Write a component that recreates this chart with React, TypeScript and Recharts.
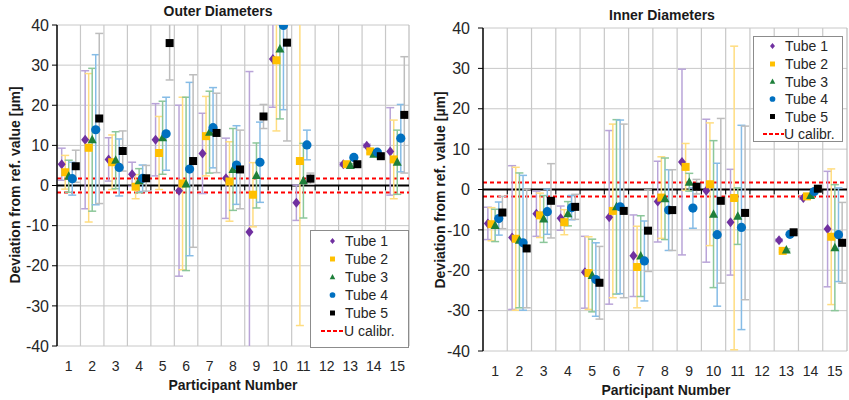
import React from 'react';
import { ScatterChart, Scatter, XAxis, YAxis, CartesianGrid, ReferenceLine, ErrorBar } from 'recharts';

const FONT = '"Liberation Sans", Arial, sans-serif';

const PARTICIPANTS = [1, 2, 3, 4, 5, 6, 7, 8, 9, 10, 11, 12, 13, 14, 15];
const Y_TICKS = [-40, -30, -20, -10, 0, 10, 20, 30, 40];
const U_CALIBR = 1.75;

// Outer diameters: deviation per participant (null = no result) and uncertainty
const OUTER_T1 = [5.3, 11.4, 6.5, 2.8, 11.4, -1.3, 8.0, 1.8, -11.6, 31.5, -4.3, null, 5.3, 9.9, 8.5];
const OUTER_T1_ERR = [4, 17.2, 5.4, 3, 9, 21.3, 10, 10, 40, 12, 4.4, null, 0.4, 0.4, 10.9];
const OUTER_T2 = [3.3, 9.4, 5.8, -0.3, 8.1, 0.5, 12.3, 1.0, -2.3, 31.2, 6.1, null, 5.3, 8.5, 6.5];
const OUTER_T2_ERR = [4.2, 18.5, 6.8, 3, 9.1, 21.5, 9.9, 9.9, 8, 17.6, 41, null, 0.4, 0.4, 9.8];
const OUTER_T3 = [2.3, 11.4, 6.3, 1.2, 11.9, 0.4, 13.3, 4.0, 2.5, 34.0, 1.2, null, 5.0, 7.8, 5.8];
const OUTER_T3_ERR = [4, 17.8, 7.1, 3, 9.1, 21.6, 10.2, 10.2, 8.1, 17.4, 9.3, null, 0.4, 0.4, 8];
const OUTER_T4 = [1.7, 13.9, 4.5, 1.8, 12.9, 4.1, 14.4, 5.1, 5.8, 39.9, 10.1, null, 7.0, 8.3, 11.8];
const OUTER_T4_ERR = [4.1, 18.7, 7.1, 3.3, 9.1, 21.6, 10, 9.8, 10, 21, 3.7, null, 0.4, 0.4, 8.4];
const OUTER_T5 = [4.8, 16.7, 8.6, 1.8, 35.5, 6.1, 13.1, 4.0, 17.2, 35.6, 1.7, null, 5.3, 7.3, 17.6];
const OUTER_T5_ERR = [4, 21.2, 5, 3.2, 9.2, 21.5, 9.9, 9.8, 3, 24.5, 1.4, null, 0.4, 0.4, 14.5];

// Inner diameters
const INNER_T1 = [-8.4, -11.9, -6.0, -7.1, -20.5, -6.9, -16.4, -3.0, 6.8, -0.3, -8.1, null, -12.6, -2.1, -9.8];
const INNER_T1_ERR = [4, 17.8, 5.6, 3, 8.9, 21.5, 10.1, 10, 23, 17.7, 13.1, null, 0.3, 0.3, 14.3];
const INNER_T2 = [-8.6, -12.2, -6.4, -8.1, -20.7, -5.3, -19.2, -2.0, 5.6, 1.3, -2.1, null, -15.2, -1.7, -11.7];
const INNER_T2_ERR = [4.1, 17.7, 5.5, 3.1, 9, 21.5, 10.1, 10.1, 5.8, 15.2, 37.6, null, 0.3, 0.3, 16.8];
const INNER_T3 = [-8.9, -12.6, -7.3, -6.0, -21.3, -4.3, -16.5, -2.3, 1.8, -6.1, -6.6, null, -15.0, -1.5, -14.4];
const INNER_T3_ERR = [4, 16.7, 5.8, 3, 9, 21.6, 10, 10.1, 2.2, 18.2, 7, null, 0.3, 0.3, 15.6];
const INNER_T4 = [-7.2, -13.2, -5.5, -4.5, -22.3, -4.3, -17.7, -5.1, -4.6, -11.2, -9.4, null, -11.1, -0.5, -11.2];
const INNER_T4_ERR = [4.1, 16.7, 5.6, 3, 9.1, 21.5, 9.9, 10, 5, 17.7, 25.3, null, 0.3, 0.3, 11.6];
const INNER_T5 = [-5.7, -14.6, -2.8, -4.3, -23.1, -5.3, -10.2, -5.1, 0.7, -2.8, -5.8, null, -10.6, 0.2, -13.2];
const INNER_T5_ERR = [4, 14.7, 9.2, 3.1, 9, 21.5, 10.1, 10, 1.8, 20.4, 21.5, null, 0.3, 0.3, 10];

const TUBES = [
  { name: 'Tube 1', shape: 'diamond', color: '#7030A0', errColor: '#B9A4D8', offset: -0.3 },
  { name: 'Tube 2', shape: 'square', color: '#FFC000', errColor: '#FFDD80', offset: -0.15 },
  { name: 'Tube 3', shape: 'triangle', color: '#1E7F3A', errColor: '#8CC79A', offset: 0 },
  { name: 'Tube 4', shape: 'circle', color: '#0070C0', errColor: '#86BCE6', offset: 0.15 },
  { name: 'Tube 5', shape: 'square', color: '#000000', errColor: '#BDBDBD', offset: 0.3 },
];

const OUTER = [
  [OUTER_T1, OUTER_T1_ERR], [OUTER_T2, OUTER_T2_ERR], [OUTER_T3, OUTER_T3_ERR],
  [OUTER_T4, OUTER_T4_ERR], [OUTER_T5, OUTER_T5_ERR],
];
const INNER = [
  [INNER_T1, INNER_T1_ERR], [INNER_T2, INNER_T2_ERR], [INNER_T3, INNER_T3_ERR],
  [INNER_T4, INNER_T4_ERR], [INNER_T5, INNER_T5_ERR],
];

// boundaries between participants (vertical grid lines)
const BOUNDS = PARTICIPANTS.slice(1).map((p) => p - 0.5);

function Marker({ shape, color, cx, cy, s = 1 }: any) {
  if (cx == null || cy == null) return null;
  if (shape === 'diamond') {
    const w = 4 * s, h = 5 * s;
    return <polygon points={`${cx},${cy - h} ${cx + w},${cy} ${cx},${cy + h} ${cx - w},${cy}`} fill={color} />;
  }
  if (shape === 'triangle') {
    const w = 4.5 * s;
    return <polygon points={`${cx},${cy - 5 * s} ${cx + w},${cy + 3.5 * s} ${cx - w},${cy + 3.5 * s}`} fill={color} />;
  }
  if (shape === 'circle') return <circle cx={cx} cy={cy} r={4.6 * s} fill={color} />;
  const a = 4 * s;
  return <rect x={cx - a} y={cy - a} width={2 * a} height={2 * a} fill={color} />;
}

function buildData(vals: (number | null)[], errs: (number | null)[], offset: number) {
  return PARTICIPANTS.map((p, i) => ({ x: p + offset, y: vals[i], err: errs[i] })).filter((d) => d.y != null);
}

function Panel({ series, width, margin, tickMargin }: any) {
  return (
    <ScatterChart width={width} height={400} margin={margin}>
      <CartesianGrid vertical={false} stroke="#c8c8c8" />
      {BOUNDS.map((b) => (
        <ReferenceLine key={`g${b}`} x={b} stroke="#c8c8c8" strokeWidth={1.2} />
      ))}
      <ReferenceLine x={15.5} stroke="#bdbdbd" strokeWidth={1.2} />
      <XAxis
        type="number"
        dataKey="x"
        domain={[0.5, 15.5]}
        ticks={PARTICIPANTS}
        interval={0}
        allowDataOverflow
        axisLine={false}
        tickLine={false}
        tickSize={0}
        tickMargin={15}
        height={40}
        tick={{ fill: '#262626', fontSize: 14, fontFamily: FONT }}
      />
      <YAxis
        type="number"
        dataKey="y"
        domain={[-40, 40]}
        ticks={Y_TICKS}
        interval={0}
        allowDataOverflow
        width={57}
        axisLine={{ stroke: '#000', strokeWidth: 1.5 }}
        tickLine={{ stroke: '#000' }}
        tickSize={5}
        tickMargin={tickMargin}
        tick={{ fill: '#262626', fontSize: 16, fontFamily: FONT }}
      />
      <ReferenceLine y={0} stroke="#000" strokeWidth={2} />
      {BOUNDS.map((b) => (
        <ReferenceLine key={`t${b}`} segment={[{ x: b, y: 0 }, { x: b, y: -1.2 }]} stroke="#000" strokeWidth={1} />
      ))}
      <ReferenceLine y={U_CALIBR} stroke="#FF0000" strokeWidth={2} strokeDasharray="4 3" />
      <ReferenceLine y={-U_CALIBR} stroke="#FF0000" strokeWidth={2} strokeDasharray="4 3" />
      {TUBES.map((t, i) => (
        <Scatter
          key={t.name}
          name={t.name}
          data={buildData(series[i][0], series[i][1], t.offset)}
          isAnimationActive={false}
          shape={(p: any) => <Marker shape={t.shape} color={t.color} cx={p.cx} cy={p.cy} />}
        >
          <ErrorBar dataKey="err" direction="y" width={4} stroke={t.errColor} strokeWidth={1.5} />
        </Scatter>
      ))}
    </ScatterChart>
  );
}

function LegendBox({ left, top, width, height, rows, markerX, textX, dash }: any) {
  const items = [...TUBES.map((t) => ({ ...t, line: false })), { name: 'U calibr.', line: true }];
  return (
    <div style={{ position: 'absolute', left, top, width, height, boxSizing: 'border-box', border: '1px solid #8c8c8c', background: '#fff' }}>
      <svg width={width - 2} height={height - 2} style={{ position: 'absolute', left: 0, top: 0 }}>
        {items.map((it: any, i) => (
          <g key={it.name}>
            {it.line ? (
              <line x1={dash[0]} x2={dash[1]} y1={rows[i]} y2={rows[i]} stroke="#FF0000" strokeWidth={2} strokeDasharray="4 2" />
            ) : (
              <Marker shape={it.shape} color={it.color} cx={markerX} cy={rows[i]} s={0.62} />
            )}
            <text x={it.line ? dash[1] : textX} y={rows[i] + 5} fontSize={14} fontFamily={FONT} fill="#262626">
              {it.name}
            </text>
          </g>
        ))}
      </svg>
    </div>
  );
}

const label = (text: string, x: number, y: number, rotate = false, size = 14) => (
  <div
    style={{
      position: 'absolute', left: x, top: y, transform: `translate(-50%, -50%)${rotate ? ' rotate(-90deg)' : ''}`,
      whiteSpace: 'nowrap', fontFamily: FONT, fontWeight: 'bold', fontSize: size, color: '#1a1a1a',
    }}
  >
    {text}
  </div>
);

// error bars that run past the ±40 range are cut at the plot frame
const CLIP_CSS = `
.panel-outer [class*="recharts-errorBar"] { clip-path: url(#clipOuter); }
.panel-inner [class*="recharts-errorBar"] { clip-path: url(#clipInner); }
`;

export default function App() {
  return (
    <div style={{ position: 'absolute', left: 0, top: 0, width: 849, height: 400, background: '#fff', overflow: 'hidden' }}>
      <style>{CLIP_CSS}</style>
      <svg width={0} height={0} style={{ position: 'absolute' }}>
        <defs>
          <clipPath id="clipOuter" clipPathUnits="userSpaceOnUse">
            <rect x={57} y={25} width={352} height={321} />
          </clipPath>
          <clipPath id="clipInner" clipPathUnits="userSpaceOnUse">
            <rect x={57} y={28} width={364} height={323} />
          </clipPath>
        </defs>
      </svg>
      <div className="panel-outer" style={{ position: 'absolute', left: 0, top: 0 }}>
        <Panel series={OUTER} width={420} margin={{ top: 25, right: 11, bottom: 14, left: 0 }} tickMargin={3} />
      </div>
      <div className="panel-inner" style={{ position: 'absolute', left: 426, top: 0 }}>
        <Panel series={INNER} width={423} margin={{ top: 28, right: 2, bottom: 9, left: 0 }} tickMargin={8} />
      </div>
      {label('Outer Diameters', 218, 11)}
      {label('Inner Diameters', 662, 15)}
      {label('Deviation from ref. value [µm]', 15, 185, true)}
      {label('Deviation from ref. value [µm]', 440, 190, true)}
      {label('Participant Number', 233, 385)}
      {label('Participant Number', 666, 390)}
      <LegendBox left={310} top={230} width={99} height={118} rows={[10, 28, 46, 64, 82, 100]} markerX={21.5} textX={34} dash={[10, 33]} />
      <LegendBox left={753} top={36} width={90} height={106} rows={[9, 27, 44.5, 62, 79.5, 97]} markerX={18.5} textX={31} dash={[9, 30]} />
    </div>
  );
}
